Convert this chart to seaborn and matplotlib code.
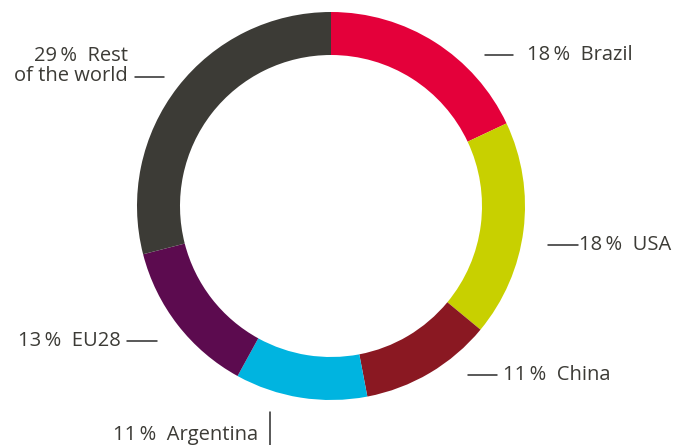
import matplotlib
matplotlib.use("Agg")
import matplotlib.pyplot as plt
import seaborn as sns

# data, clockwise from 12 o'clock
regions = ["Brazil", "USA", "China", "Argentina", "EU28", "Rest\nof the world"]
shares = [18, 18, 11, 11, 13, 29]
colors = ["#E4003A", "#C8D000", "#8A1822", "#00B4E0", "#5C0B4F", "#3C3B36"]


def setup():
    sns.set_theme(style="white")
    plt.rcParams["font.family"] = ["Open Sans", "DejaVu Sans"]


def plot_donut():
    W, H = 690, 445
    fig = plt.figure(figsize=(W / 100, H / 100), dpi=100)
    ax = fig.add_axes([0, 0, 1, 1])

    cx, cy = 331, H - 206
    ax.pie(
        shares,
        colors=colors,
        startangle=90,
        counterclock=False,
        radius=194,
        center=(cx, cy),
        wedgeprops=dict(width=43, linewidth=0),
    )
    ax.set_xlim(0, W)
    ax.set_ylim(0, H)
    ax.set_aspect("equal")
    ax.axis("off")

    txt = dict(fontsize=14.5, color="#3C3B36")
    line = dict(color="#2B2B2B", lw=1.1)
    lbl = [f"{s}\u2009%  {r}" for s, r in zip(shares, regions)]

    # Brazil
    ax.plot([485, 513], [H - 55, H - 55], **line)
    ax.text(527, H - 55, lbl[0], ha="left", va="center", **txt)
    # USA
    ax.plot([548, 578], [H - 245, H - 245], **line)
    ax.text(579, H - 245, lbl[1], ha="left", va="center", **txt)
    # China
    ax.plot([468, 497], [H - 375, H - 375], **line)
    ax.text(503, H - 375, lbl[2], ha="left", va="center", **txt)
    # Argentina
    ax.plot([270, 270], [H - 412, 0], **line)
    ax.text(258, H - 435, lbl[3], ha="right", va="center", **txt)
    # EU28
    ax.plot([127, 157], [H - 341, H - 341], **line)
    ax.text(121, H - 341, lbl[4], ha="right", va="center", **txt)
    # Rest of the world
    ax.plot([135, 164], [H - 77, H - 77], **line)
    ax.text(128, H - 66, lbl[5], ha="right", va="center", multialignment="right",
            linespacing=1.05, **txt)

    fig.savefig("out.png", dpi=100)


def main():
    setup()
    plot_donut()


if __name__ == "__main__":
    main()
